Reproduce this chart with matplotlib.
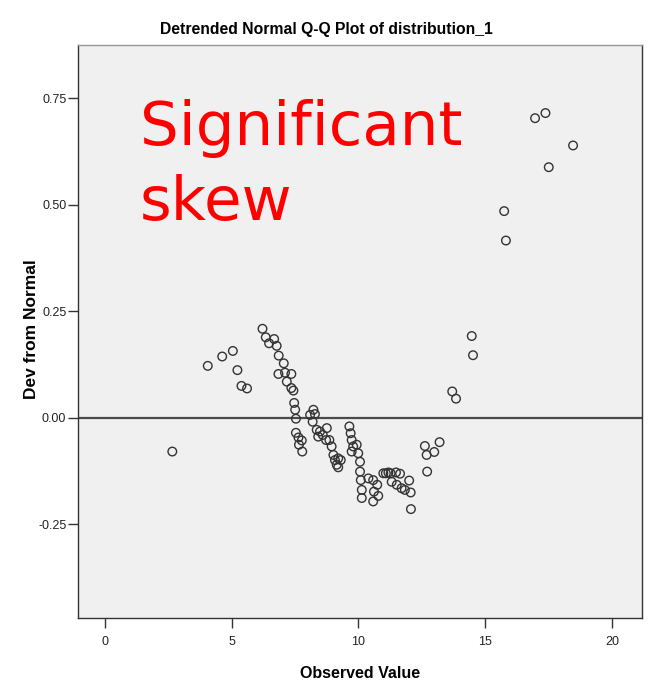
import matplotlib
matplotlib.use("Agg")
import matplotlib.pyplot as plt

# observed values and their deviation from the normal line
observed = [
    2.65, 4.05, 4.62, 5.04, 5.22, 5.38, 5.60,
    6.21, 6.34, 6.47, 6.67, 6.77, 6.85, 7.05, 6.84, 7.10, 7.35, 7.17, 7.35,
    7.43, 7.46, 7.50, 7.53, 7.53, 7.63, 7.76, 7.65, 7.78,
    8.09, 8.22, 8.28, 8.19, 8.35, 8.48, 8.41, 8.59, 8.75, 8.72, 8.85, 8.94,
    9.01, 9.07, 9.20, 9.30, 9.14, 9.20,
    9.64, 9.69, 9.73, 9.79, 9.73, 9.93, 9.99, 10.06, 10.06, 10.09, 10.39,
    10.13, 10.13, 10.58, 10.74, 10.61, 10.78, 10.58,
    10.98, 11.08, 11.18, 11.27, 11.48, 11.64, 11.31, 11.51, 11.70, 11.83,
    12.00, 12.06, 12.07,
    12.62, 12.69, 12.99, 13.20, 12.71, 13.70, 13.85, 14.47, 14.52,
    15.75, 15.82, 16.97, 17.38, 17.51, 18.47,
]
dev_from_normal = [
    -0.079, 0.122, 0.144, 0.157, 0.112, 0.075, 0.069,
    0.209, 0.189, 0.175, 0.185, 0.169, 0.146, 0.128, 0.103, 0.106, 0.103, 0.085, 0.070,
    0.064, 0.035, 0.019, -0.002, -0.035, -0.046, -0.053, -0.063, -0.079,
    0.007, 0.019, 0.009, -0.009, -0.028, -0.032, -0.044, -0.040, -0.024, -0.052, -0.052, -0.067,
    -0.087, -0.099, -0.095, -0.099, -0.110, -0.116,
    -0.020, -0.036, -0.052, -0.067, -0.079, -0.063, -0.083, -0.103, -0.126, -0.146, -0.142,
    -0.169, -0.188, -0.146, -0.157, -0.173, -0.183, -0.196,
    -0.130, -0.130, -0.128, -0.130, -0.128, -0.131, -0.150, -0.157, -0.165, -0.169,
    -0.147, -0.175, -0.214,
    -0.066, -0.087, -0.080, -0.057, -0.126, 0.062, 0.045, 0.192, 0.147,
    0.485, 0.416, 0.703, 0.715, 0.588, 0.639,
]

x_ticks = [0, 5, 10, 15, 20]
y_ticks = [-0.25, 0.00, 0.25, 0.50, 0.75]
y_tick_labels = ["-0.25", "0.00", "0.25", "0.50", "0.75"]

sans = ["Liberation Sans", "DejaVu Sans"]

fig = plt.figure(figsize=(6.56, 6.9), dpi=100)
ax = fig.add_axes([0.119, 0.104, 0.860, 0.831])
ax.set_facecolor("#f0f0f0")

ax.axhline(0, color="#4a4a4a", lw=1.6, zorder=1)
ax.scatter(observed, dev_from_normal, s=38, facecolors="none",
           edgecolors="#333333", linewidths=1.0, zorder=2)

ax.set_xlim(-1.07, 21.2)
ax.set_ylim(-0.47, 0.875)
ax.set_xticks(x_ticks)
ax.set_yticks(y_ticks)
ax.set_yticklabels(y_tick_labels)
ax.tick_params(direction="out", length=7, width=1, color="#333333",
               labelsize=9, labelcolor="#222222")
ax.tick_params(axis="x", pad=6)
ax.tick_params(axis="y", pad=1.5)
for lbl in ax.get_xticklabels() + ax.get_yticklabels():
    lbl.set_family(sans)

for side in ["left", "bottom", "right", "top"]:
    ax.spines[side].set_color("#333333")
    ax.spines[side].set_linewidth(1.0)
ax.spines["top"].set_color("#999999")

fig.text(0.497, 0.957, "Detrended Normal Q-Q Plot of distribution_1",
         family=sans, fontsize=11.3, fontweight="bold", ha="center", va="center")
ax.set_xlabel("Observed Value", family=sans, fontsize=11.5,
              fontweight="bold", labelpad=13)
ax.set_ylabel("Dev from Normal", family=sans, fontsize=12.5, fontweight="bold")
ax.yaxis.set_label_coords(-0.07, 0.505)

ax.text(0.11, 0.905, "Significant\nskew", transform=ax.transAxes,
        color="#ff0000", fontsize=44, va="top", ha="left",
        family=["DejaVu Sans"], linespacing=1.35)

fig.savefig("out.png", dpi=100)
